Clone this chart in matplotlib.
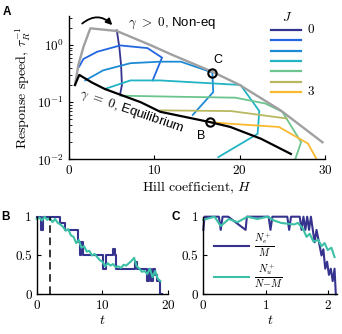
import matplotlib
matplotlib.use('Agg')
import matplotlib.pyplot as plt
from matplotlib.lines import Line2D
from matplotlib.patches import FancyArrowPatch

plt.rcParams.update({
    'font.family': 'serif', 'font.serif': ['cmr10'],
    'mathtext.fontset': 'cm', 'axes.formatter.use_mathtext': True,
    'axes.unicode_minus': False, 'font.size': 9,
    'axes.linewidth': 1.0,
})
SANS = ['Liberation Sans', 'DejaVu Sans']

# ---------------- Panel A data ----------------
J_labels = ['0', '', '', '', '', '', '3']
J_colors = ['#34338f', '#2266e0', '#1e8ad6', '#22b3c4', '#6cc48e', '#b8b860', '#fbb932']

H_J0 = [5.6, 5.9, 6.1, 6.2, 6.0]
R_J0 = [1.8, 0.9, 0.45, 0.2, 0.14]
H_J05 = [1.2, 1.7, 3.3, 6.0, 9.2, 10.9, 9.8]
R_J05 = [0.42, 0.57, 0.76, 0.98, 0.88, 0.60, 0.24]
H_J1 = [1.9, 4.0, 7.2, 10.7, 13.1, 16.8, 16.9, 14.5]
R_J1 = [0.24, 0.36, 0.48, 0.51, 0.51, 0.33, 0.15, 0.06]
H_J15 = [4.2, 7.2, 10.7, 20.1, 22.3, 22.1, 17.5]
R_J15 = [0.17, 0.24, 0.24, 0.20, 0.07, 0.028, 0.011]
H_J2 = [6.0, 12.0, 19.5, 23.0, 25.0, 27.2, 26.5]
R_J2 = [0.13, 0.125, 0.12, 0.095, 0.068, 0.02, 0.01]
H_J25 = [10.7, 19.0, 25.5]
R_J25 = [0.072, 0.070, 0.052]
H_J3 = [16.5, 18.9, 24.6, 28.0, 29.1]
R_J3 = [0.045, 0.042, 0.037, 0.019, 0.0096]

H_noneq = [0.7, 1.1, 1.7, 2.5, 5.6, 9.5, 12.0, 16.8, 20.0, 24.8, 29.7]
R_noneq = [0.2, 0.45, 0.93, 1.95, 1.75, 1.0, 0.68, 0.34, 0.2, 0.072, 0.02]
H_eq = [0.7, 1.2, 2.7, 4.2, 8.4, 10.7, 16.5, 18.9, 22.5, 26.0]
R_eq = [0.2, 0.3, 0.22, 0.17, 0.10, 0.068, 0.045, 0.037, 0.023, 0.0125]

pt_C = (16.8, 0.33)
pt_B = (16.5, 0.045)

# ---------------- Panel B data ----------------
tB_e = [0, 0.7, 0.9, 3.5, 4.3, 6.3, 6.6, 6.8, 7.0, 10.1, 10.5, 11.6, 11.9, 12.1,
        15.0, 15.3, 16.7, 17.0, 17.4, 17.7, 18.0, 18.3, 18.7, 19.0]
vB_e = [1, 0.83, 1, 0.92, 0.83, 0.67, 0.5, 0.67, 0.5, 0.33, 0.5, 0.58, 0.5, 0.33,
        0.42, 0.33, 0.17, 0.33, 0.17, 0.33, 0.25, 0.17, 0, 0]
tB_u = [0, 0.4, 0.8, 1.2, 1.6, 2.0, 2.4, 2.8, 3.2, 3.6, 4.0, 4.4, 4.8, 5.2, 5.6, 6.0,
        6.4, 6.8, 7.2, 7.6, 8.0, 8.4, 8.8, 9.2, 9.6, 10.0, 10.4, 10.8, 11.2, 11.6, 12.0,
        12.4, 12.8, 13.2, 13.6, 14.0, 14.4, 14.8, 15.2, 15.6, 16.0, 16.4, 16.8, 17.2,
        17.6, 18.0, 18.4, 18.8]
vB_u = [0.97, 0.99, 0.95, 1.0, 0.96, 0.98, 0.93, 0.97, 0.92, 0.9, 0.87, 0.82, 0.84,
        0.76, 0.74, 0.66, 0.7, 0.6, 0.62, 0.55, 0.56, 0.5, 0.52, 0.48, 0.44, 0.42, 0.36,
        0.4, 0.37, 0.39, 0.35, 0.36, 0.34, 0.38, 0.37, 0.4, 0.43, 0.47, 0.36, 0.33, 0.29,
        0.3, 0.26, 0.33, 0.22, 0.3, 0.2, 0.17]
t_dash = 2.0

# ---------------- Panel C data ----------------
tC_e = [0, 0.02, 0.25, 0.28, 0.31, 0.4, 0.68, 0.7, 1.05, 1.08, 1.11, 1.35, 1.38, 1.41,
        1.55, 1.58, 1.61, 1.64, 1.67, 1.7, 1.73, 1.76, 1.79, 1.82, 1.86, 1.9, 1.93, 1.96,
        1.99, 2.02, 2.05, 2.08, 2.11, 2.13]
vC_e = [0.83, 1, 1, 0.83, 1, 1, 0.83, 1, 1, 0.83, 1, 1, 0.83, 1, 1, 0.83, 1, 0.83, 1,
        0.83, 1, 0.83, 0.67, 0.83, 0.67, 0.5, 0.58, 0.33, 0.42, 0.25, 0.33, 0.17, 0.33, 0]
tC_u = [0, 0.18, 0.28, 0.41, 0.55, 0.71, 0.87, 1.03, 1.14, 1.25, 1.35, 1.46, 1.52, 1.6,
        1.66, 1.71, 1.77, 1.85, 1.9, 1.95, 2.0, 2.06, 2.11]
vC_u = [0.96, 1.0, 0.88, 0.97, 0.93, 1.0, 0.97, 1.0, 0.95, 0.92, 0.91, 0.9, 0.92, 0.85,
        0.74, 0.78, 0.68, 0.7, 0.62, 0.66, 0.57, 0.6, 0.48]

navy = '#36338f'
teal = '#3cc0a6'

fig = plt.figure(figsize=(3.42, 3.34), dpi=100)


def style(ax):
    for s in ['top', 'right']:
        ax.spines[s].set_visible(False)
    ax.tick_params(direction='in', length=3, width=0.8, which='major', labelsize=9.5)
    ax.tick_params(direction='in', length=1.8, width=0.6, which='minor')


# ---------------- Panel A ----------------
axA = fig.add_axes([0.2018, 0.5225, 0.7485, 0.4296])
style(axA)
axA.set_yscale('log')
axA.set_xlim(0, 30)
axA.set_ylim(1e-2, 3.2)
axA.set_xticks([0, 10, 20, 30])
axA.set_yticks([1e-2, 1e-1, 1e0])

series = [(H_J0, R_J0), (H_J05, R_J05), (H_J1, R_J1), (H_J15, R_J15),
          (H_J2, R_J2), (H_J25, R_J25), (H_J3, R_J3)]
for (hh, rr), c in zip(series, J_colors):
    axA.plot(hh, rr, color=c, lw=1.3, solid_joinstyle='miter')
axA.plot(H_noneq, R_noneq, color='#a0a0a0', lw=1.7)
axA.plot(H_eq, R_eq, color='black', lw=1.6)
axA.plot([pt_C[0], pt_B[0]], [pt_C[1], pt_B[1]], 'o', ms=6, mfc='none', mec='black',
         mew=1.5, ls='none')
axA.text(17.5, 0.55, 'C', family=SANS, fontsize=9, ha='center', va='center')
axA.text(15.5, 0.026, 'B', family=SANS, fontsize=9, ha='center', va='center')

axA.text(6.9, 2.4, r'$\gamma\ >\ 0$, Non-eq', family=SANS, fontsize=9.5, ha='left', va='center')
axA.text(7.3, 0.068, r'$\gamma\ =\ 0$, Equilibrium', family=SANS, fontsize=9.5,
         ha='center', va='center', rotation=-19)

arr = FancyArrowPatch((1.3, 2.2), (5.3, 2.05), connectionstyle='arc3,rad=-0.5',
                      arrowstyle='-|>', mutation_scale=9, lw=1.3, color='black')
axA.add_patch(arr)

axA.set_xlabel(r'Hill coefficient, $H$', fontsize=10, labelpad=2)
axA.set_ylabel(r'Response speed, $\tau_R^{-1}$', fontsize=10, labelpad=3)

# manual legend for J
for i, c in enumerate(J_colors):
    y = 0.902 - 0.072 * i
    axA.add_line(Line2D([0.789, 0.906], [y, y], color=c, lw=1.6, transform=axA.transAxes))
    if J_labels[i]:
        axA.text(0.945, y, J_labels[i], transform=axA.transAxes, ha='center',
                 va='center', fontsize=9.5)
axA.text(0.854, 0.99, r'$J$', transform=axA.transAxes, ha='center', va='center', fontsize=9.5)

# ---------------- Panel B ----------------
axB = fig.add_axes([0.1073, 0.1189, 0.3848, 0.2323])
style(axB)
axB.set_xlim(0, 20)
axB.set_ylim(0, 1)
axB.set_xticks([0, 10, 20])
axB.set_yticks([0, 0.5, 1])
axB.set_yticklabels(['0', '0.5', '1'])
axB.plot(tB_e, vB_e, color=navy, lw=1.5, drawstyle='steps-post', clip_on=False)
axB.plot(tB_u, vB_u, color=teal, lw=1.5, clip_on=False)
axB.plot([t_dash, t_dash], [0, 1], color='black', lw=1.1, ls=(0, (5, 3)))
axB.set_xlabel(r'$t$', fontsize=10, labelpad=1)

# ---------------- Panel C ----------------
axC = fig.add_axes([0.5945, 0.1189, 0.391, 0.2323])
style(axC)
axC.set_xlim(0, 2.15)
axC.set_ylim(0, 1)
axC.set_xticks([0, 1, 2])
axC.set_yticks([0, 0.5, 1])
axC.set_yticklabels(['0', '0.5', '1'])
axC.plot(tC_e, vC_e, color=navy, lw=1.5, clip_on=False, label=r'$\frac{N_e^+}{M}$')
axC.plot(tC_u, vC_u, color=teal, lw=1.5, clip_on=False, label=r'$\frac{N_u^+}{N\!-\!M}$')
axC.legend(loc='lower left', bbox_to_anchor=(0.0, -0.08), frameon=False, fontsize=10.5,
           handlelength=2.4, handletextpad=0.4, labelspacing=0.25, borderpad=0.2)
axC.set_xlabel(r'$t$', fontsize=10, labelpad=1)

fig.text(0.008, 0.982, 'A', family=SANS, fontweight='bold', fontsize=8.5, va='top')
fig.text(0.003, 1 - 211 / 334, 'B', family=SANS, fontweight='bold', fontsize=8.5, va='top')
fig.text(0.502, 1 - 211 / 334, 'C', family=SANS, fontweight='bold', fontsize=8.5, va='top')

fig.savefig('out.png', dpi=100)
